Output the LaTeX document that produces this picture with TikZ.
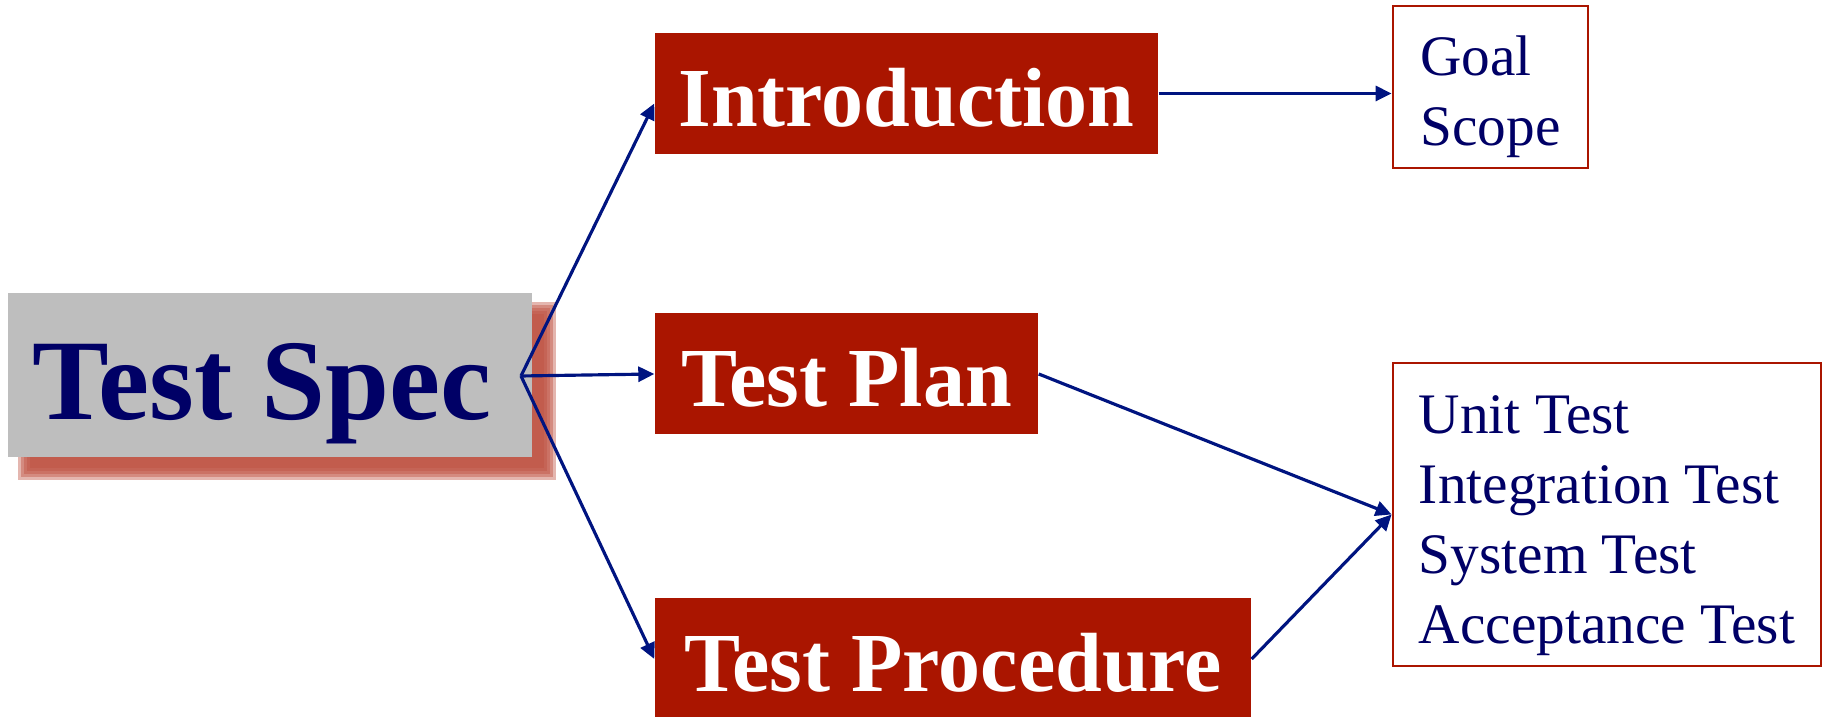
\documentclass[tikz,border=0pt]{standalone}
\usepackage{fontspec}
\setmainfont{Liberation Serif}
\usetikzlibrary{arrows.meta,calc,backgrounds}
\definecolor{boxred}{RGB}{170,21,0}
\definecolor{specgray}{RGB}{190,190,190}
\definecolor{shadered}{RGB}{190,80,64}
\definecolor{navy}{RGB}{0,0,102}
\definecolor{linkblue}{RGB}{0,20,128}
\begin{document}
\begin{tikzpicture}[>={Triangle[length=0.16cm,width=0.15cm]},
  part/.style={fill=boxred,text=white,font=\fontsize{23.9}{28}\selectfont\bfseries,
    inner sep=0pt,minimum height=1.21cm,text height=0.66cm,text depth=0cm},
  list/.style={draw=boxred,line width=0.8pt,text=navy,align=left,inner sep=0pt,
    font=\fontsize{16.3}{19.9}\selectfont},
  link/.style={->,draw=linkblue,line width=0.9pt}]
  \useasboundingbox (0,0) rectangle (18.29,-7.17);
  \node[fill=specgray,text=navy,font=\fontsize{32.7}{36}\selectfont\bfseries,inner sep=0pt,
    minimum width=5.24cm,minimum height=1.64cm,text height=0.9cm,text depth=0cm] (spec) at (2.70,-3.75) {Test Spec\hspace*{0.16cm}};
  \begin{scope}[on background layer]
    \foreach \r in {-0.06,-0.03,0,0.03,0.06}
      \fill[shadered,opacity=0.42] ($(spec.south west)+(0.17+\r,-0.16+\r)$) rectangle ($(spec.north east)+(0.17-\r,-0.16-\r)$);
  \end{scope}
  \node[part,minimum width=5.03cm] (intro) at (9.065,-0.935) {Introduction};
  \node[part,minimum width=3.83cm] (plan) at (8.465,-3.74) {Test Plan};
  \node[part,minimum width=5.96cm,minimum height=1.22cm] (proc) at (9.53,-6.59) {Test Procedure};
  \node[list,minimum width=1.95cm,minimum height=1.62cm] (goal) at (14.905,-0.87) {\rule{0pt}{0.6cm}Goal\\Scope};
  \node[list,minimum width=4.28cm,minimum height=3.03cm] (tests) at (16.07,-5.145)
    {\rule{0pt}{0.6cm}Unit Test\\Integration Test\\System Test\\Acceptance Test};
  \coordinate (fan) at (5.21,-3.76);
  \draw[link] (fan) -- ([yshift=-0.1cm]intro.west);
  \draw[link] (fan) -- (plan.west);
  \draw[link] (fan) -- (proc.west);
  \draw[link] (intro.east) -- (intro.east -| goal.west);
  \draw[link] (plan.east) -- (tests.west);
  \draw[link] (proc.east) -- (tests.west);
\end{tikzpicture}
\end{document}
